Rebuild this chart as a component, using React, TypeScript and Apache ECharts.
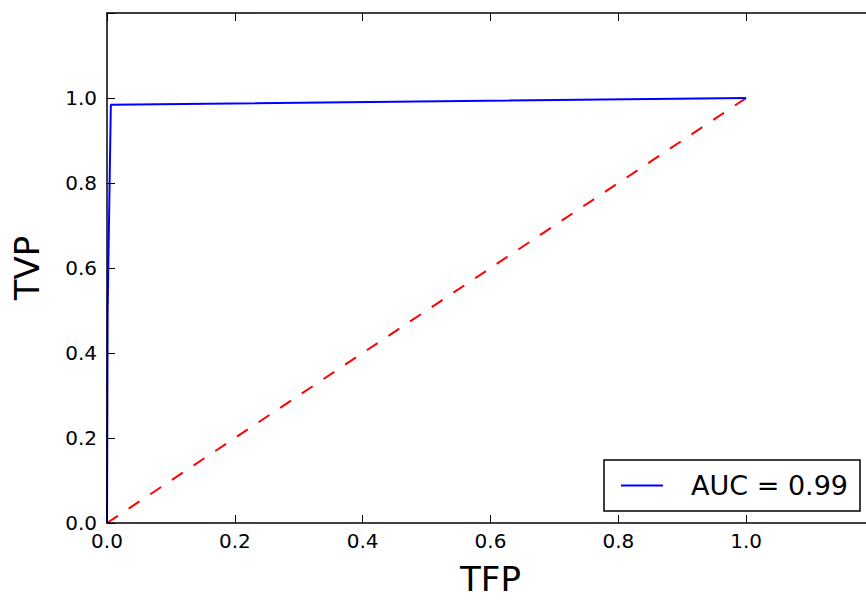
import React, { useEffect, useRef } from "react";
import * as echarts from "echarts";

// ROC curve points (false positive rate, true positive rate)
const rocFpr = [0, 0.001, 0.006, 1.0];
const rocTpr = [0, 0.5, 0.984, 1.0];
// chance diagonal
const diagFpr = [0, 1];
const diagTpr = [0, 1];
const legendLabel = "AUC = 0.99";
const xName = "TFP";
const yName = "TVP";
const axisMin = 0;
const axisMax = 1.2;
const axisStep = 0.2;

const FONT = "DejaVu Sans";

export default function App() {
  const ref = useRef<HTMLDivElement>(null);
  useEffect(() => {
    if (!ref.current) return;
    const chart = echarts.init(ref.current, undefined, { renderer: "svg" });
    const fmt = (v: number) => (v > 1.0001 ? "" : v.toFixed(1));
    const tick = { show: true, inside: true, length: 8, lineStyle: { color: "#000", width: 1 } };
    const line = { show: true, onZero: false, lineStyle: { color: "#000", width: 1.5 } };
    const baseAxis = {
      type: "value" as const,
      min: axisMin,
      max: axisMax,
      interval: axisStep,
      splitLine: { show: false },
      axisLine: line,
      axisTick: tick,
      z: 5,
    };
    chart.setOption({
      animation: false,
      backgroundColor: "#fff",
      grid: { left: 107, right: -8, top: 13, bottom: 77, outerBoundsMode: "none", containLabel: false },
      xAxis: [
        {
          ...baseAxis,
          position: "bottom",
          name: xName,
          nameLocation: "middle",
          nameGap: 39,
          nameTextStyle: { fontFamily: FONT, fontSize: 34, color: "#000" },
          axisLabel: { fontFamily: FONT, fontSize: 20, color: "#000", margin: 8, formatter: fmt },
        },
        { ...baseAxis, position: "top", axisLabel: { show: false } },
      ],
      yAxis: [
        {
          ...baseAxis,
          position: "left",
          name: yName,
          nameLocation: "middle",
          nameGap: 63,
          nameTextStyle: { fontFamily: FONT, fontSize: 34, color: "#000" },
          axisLabel: { fontFamily: FONT, fontSize: 20, color: "#000", margin: 10, formatter: fmt },
        },
        { ...baseAxis, position: "right", axisLabel: { show: false } },
      ],
      legend: {
        data: [{ name: legendLabel, icon: "rect" }],
        right: 6,
        bottom: 89,
        orient: "horizontal",
        backgroundColor: "#fff",
        borderColor: "#000",
        borderWidth: 1.5,
        borderRadius: 0,
        padding: [12, 12, 12, 17],
        itemWidth: 42,
        itemHeight: 2,
        selectedMode: false,
        textStyle: { fontFamily: FONT, fontSize: 27, color: "#000", padding: [0, 0, 0, 23], lineHeight: 27 },
      },
      series: [
        {
          name: legendLabel,
          type: "line",
          symbol: "none",
          data: rocFpr.map((x, i) => [x, rocTpr[i]]),
          lineStyle: { color: "#0000ff", width: 2 },
          itemStyle: { color: "#0000ff" },
          z: 3,
        },
        {
          name: "diagonal",
          type: "line",
          symbol: "none",
          data: diagFpr.map((x, i) => [x, diagTpr[i]]),
          lineStyle: { color: "#ff0000", width: 2, type: [13, 13] },
          itemStyle: { color: "#ff0000" },
          z: 2,
        },
      ],
    });
    return () => chart.dispose();
  }, []);
  return (
    <div style={{ position: "fixed", left: 0, top: 0, width: 866, height: 600, overflow: "hidden" }}>
      <div ref={ref} style={{ width: 866, height: 600 }} />
    </div>
  );
}
